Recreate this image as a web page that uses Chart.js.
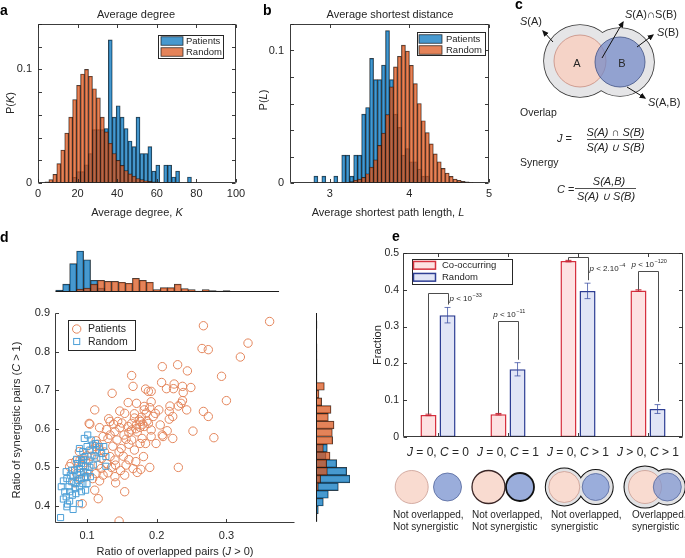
<!DOCTYPE html>
<html>
<head>
<meta charset="utf-8">
<title>Network overlap and synergy</title>
<script src="https://cdn.jsdelivr.net/npm/chart.js@4.4.1/dist/chart.umd.min.js"></script>
<style>
  body { margin: 0; background: #fff; }
  #fig { position: relative; width: 685px; height: 558px; overflow: hidden; font-family: "Liberation Sans", Arial, sans-serif; color: #262626; }
  #fig canvas { position: absolute; }
  .tx { position: absolute; font-size: 11px; line-height: 1; white-space: nowrap; transform: translate(-50%, -50%); }
  .rot { transform: translate(-50%, -50%) rotate(-90deg); }
  .pl { position: absolute; font-size: 14px; font-weight: bold; line-height: 1; color: #000; }
  .note { position: absolute; font-size: 10px; line-height: 11.7px; white-space: nowrap; }
  #art { position: absolute; left: 0; top: 0; }
</style>
</head>
<body>
<div id="fig">
  <canvas id="ca" width="245" height="205" style="left:0;top:0"></canvas>
  <canvas id="cb" width="247" height="205" style="left:248px;top:0"></canvas>
  <canvas id="cdt" width="300" height="50" style="left:0;top:245px"></canvas>
  <canvas id="cd" width="300" height="248" style="left:0;top:300px"></canvas>
  <canvas id="cdr" width="45" height="248" style="left:305px;top:300px"></canvas>
  <canvas id="ce" width="325" height="225" style="left:360px;top:240px"></canvas>

  <svg id="art" width="685" height="558" viewBox="0 0 685 558" font-family="Liberation Sans, Arial, sans-serif">
    <defs>
      <marker id="arr" viewBox="0 0 10 10" refX="8" refY="5" markerWidth="6.5" markerHeight="6.5" orient="auto">
        <path d="M0,0.5 L10,5 L0,9.5 z" fill="#111"/>
      </marker>
    </defs>
    <!-- c: Venn sketch -->
    <circle cx="580" cy="61" r="36" fill="none" stroke="#3a3a3a" stroke-width="1.6"/>
    <circle cx="620" cy="62" r="34" fill="none" stroke="#3a3a3a" stroke-width="1.6"/>
    <circle cx="580" cy="61" r="36" fill="#e5e5e7"/>
    <circle cx="620" cy="62" r="34" fill="#e5e5e7"/>
    <circle cx="580" cy="61" r="26" fill="#f5d3c7" stroke="#c68d80" stroke-width="0.8"/>
    <circle cx="620" cy="62" r="25" fill="#6f86c6" fill-opacity="0.7" stroke="#3f5084" stroke-width="0.8"/>
    <g fill="#262626" font-size="11">
      <text x="577" y="67" text-anchor="middle">A</text>
      <text x="622" y="67" text-anchor="middle">B</text>
      <text x="520" y="25"><tspan font-style="italic">S</tspan>(A)</text>
      <text x="625" y="17.5"><tspan font-style="italic">S</tspan>(A)∩S(B)</text>
      <text x="657" y="35.5"><tspan font-style="italic">S</tspan>(B)</text>
      <text x="648" y="105.5"><tspan font-style="italic">S</tspan>(A,B)</text>
      <text x="520" y="116" font-size="10.5">Overlap</text>
      <text x="557" y="142"><tspan font-style="italic">J</tspan> =</text>
      <text x="615.5" y="135.5" text-anchor="middle" font-style="italic">S(A) ∩ S(B)</text>
      <text x="615.5" y="151" text-anchor="middle" font-style="italic">S(A) ∪ S(B)</text>
      <text x="520" y="166" font-size="10.5">Synergy</text>
      <text x="557" y="193"><tspan font-style="italic">C</tspan> =</text>
      <text x="609" y="185" text-anchor="middle" font-style="italic">S(A,B)</text>
      <text x="606" y="200" text-anchor="middle" font-style="italic">S(A) ∪ S(B)</text>
    </g>
    <line x1="587" y1="139.5" x2="644" y2="139.5" stroke="#262626" stroke-width="0.8"/>
    <line x1="575" y1="188.5" x2="636" y2="188.5" stroke="#262626" stroke-width="0.8"/>
    <g stroke="#111" stroke-width="1">
      <line x1="553" y1="42" x2="543" y2="31" marker-end="url(#arr)"/>
      <line x1="602" y1="58" x2="623" y2="22" marker-end="url(#arr)"/>
      <line x1="637" y1="47" x2="653" y2="35" marker-end="url(#arr)"/>
      <line x1="627" y1="87" x2="645" y2="98" marker-end="url(#arr)"/>
    </g>

    <!-- e: pictograms under the bars -->
    <circle cx="411.7" cy="487" r="16.5" fill="#f9dbd0" stroke="#c99c92" stroke-width="0.8"/>
    <circle cx="447.5" cy="487" r="14" fill="#9aaddb" stroke="#53669c" stroke-width="0.8"/>

    <circle cx="488.5" cy="487" r="16.5" fill="#f9dbd0" stroke="#3b2626" stroke-width="1.3"/>
    <circle cx="520" cy="487" r="14" fill="#9aaddb" stroke="#111" stroke-width="1.8"/>

    <circle cx="564.3" cy="487" r="18.5" fill="none" stroke="#111" stroke-width="2"/>
    <circle cx="595.7" cy="487" r="17" fill="none" stroke="#111" stroke-width="2"/>
    <circle cx="564.3" cy="487" r="18.5" fill="#e2e2e4"/>
    <circle cx="595.7" cy="487" r="17" fill="#e2e2e4"/>
    <circle cx="564.3" cy="487" r="15.5" fill="#f9dbd0" stroke="#c99c92" stroke-width="0.8"/>
    <circle cx="595.7" cy="487" r="13.5" fill="#9aaddb" stroke="#53669c" stroke-width="0.8"/>

    <circle cx="645" cy="487" r="20.5" fill="none" stroke="#111" stroke-width="2"/>
    <circle cx="667.3" cy="487" r="17.5" fill="none" stroke="#111" stroke-width="2"/>
    <circle cx="645" cy="487" r="20.5" fill="#e2e2e4"/>
    <circle cx="667.3" cy="487" r="17.5" fill="#e2e2e4"/>
    <circle cx="645" cy="487" r="16.5" fill="#f9dbd0" stroke="#c99c92" stroke-width="0.8"/>
    <circle cx="667.3" cy="487" r="14" fill="#7f96d0" fill-opacity="0.72" stroke="#53669c" stroke-width="0.8"/>
  </svg>

  <div class="pl" style="left:0;top:3px">a</div>
  <div class="pl" style="left:263px;top:3px">b</div>
  <div class="pl" style="left:515px;top:-3px">c</div>
  <div class="pl" style="left:0;top:230px">d</div>
  <div class="pl" style="left:392px;top:229px">e</div>

  <div class="tx" style="left:136px;top:14px">Average degree</div>
  <div class="tx rot" style="left:10px;top:103px">P(<i>K</i>)</div>
  <div class="tx" style="left:137px;top:212px">Average degree, <i>K</i></div>
  <div class="tx" style="left:390px;top:14px">Average shortest distance</div>
  <div class="tx rot" style="left:263px;top:100px">P(<i>L</i>)</div>
  <div class="tx" style="left:388px;top:212px">Average shortest path length, <i>L</i></div>
  <div class="tx rot" style="left:16px;top:420px">Ratio of synergistic pairs (<i>C</i> &gt; 1)</div>
  <div class="tx" style="left:175px;top:551px">Ratio of overlapped pairs (<i>J</i> &gt; 0)</div>
  <div class="tx rot" style="left:377px;top:345px">Fraction</div>

  <div class="note" style="left:393px;top:509px">Not overlapped,<br>Not synergistic</div>
  <div class="note" style="left:472px;top:509px">Not overlapped,<br>Not synergistic</div>
  <div class="note" style="left:551px;top:509px">Not overlapped,<br>synergistic</div>
  <div class="note" style="left:632px;top:509px">Overlapped,<br>synergistic</div>
</div>

<script>
// ---- a: average degree, probability per bin (bin centres)
const degBins = [4.5, 6.5, 8.5, 10.5, 12.5, 14.5, 16.5, 18.5, 20.5, 22.5, 24.5, 26.5, 28.5, 30.5, 32.5, 34.5, 36.5, 38.5, 40.5, 42.5, 44.5, 46.5, 48.5, 50.5, 52.5, 54.5, 56.5, 58.5, 60.5, 62.5, 64.5, 66.5, 68.5, 70.5, 72.5, 74.5, 76.5];
const degPatients = [0, 0, 0, 0, 0, 0, 0, 0.005, 0.01, 0.01, 0.016, 0.026, 0.047, 0.047, 0.047, 0.048, 0.126, 0.058, 0.068, 0.058, 0.048, 0.037, 0.032, 0.058, 0.026, 0.026, 0.032, 0.0105, 0.0158, 0, 0.0158, 0.0158, 0.0053, 0.0105, 0, 0, 0.0053];
const degRandom = [0.001, 0.003, 0.0077, 0.017, 0.029, 0.044, 0.058, 0.0735, 0.086, 0.096, 0.1, 0.094, 0.083, 0.075, 0.058, 0.045, 0.035, 0.026, 0.02, 0.0155, 0.011, 0.008, 0.006, 0.004, 0.003, 0.002, 0.0015, 0.001, 0.0008, 0.0005, 0.0003, 0.0002, 0, 0, 0, 0, 0];

// ---- b: average shortest path length
const lenBins = [2.825, 2.875, 2.925, 2.975, 3.025, 3.075, 3.125, 3.175, 3.225, 3.275, 3.325, 3.375, 3.425, 3.475, 3.525, 3.575, 3.625, 3.675, 3.725, 3.775, 3.825, 3.875, 3.925, 3.975, 4.025, 4.075, 4.125, 4.175, 4.225, 4.275, 4.325, 4.375, 4.425, 4.475, 4.525, 4.575, 4.625, 4.675, 4.725, 4.775];
const lenPatients = [0.0052, 0, 0.0052, 0, 0, 0.0052, 0, 0.021, 0.021, 0.0052, 0.021, 0.021, 0.052, 0.057, 0.094, 0.078, 0.078, 0.089, 0.115, 0.078, 0.052, 0.042, 0.021, 0.026, 0.016, 0.016, 0.0105, 0.0052, 0.0052, 0, 0, 0, 0, 0, 0, 0, 0, 0, 0, 0];
const lenRandom = [0, 0, 0, 0, 0, 0, 0, 0.0004, 0.0006, 0.001, 0.0022, 0.003, 0.0043, 0.007, 0.012, 0.0175, 0.0284, 0.0377, 0.0516, 0.0725, 0.0876, 0.0956, 0.104, 0.0996, 0.0888, 0.075, 0.06, 0.047, 0.038, 0.0295, 0.022, 0.016, 0.011, 0.0075, 0.005, 0.003, 0.002, 0.0012, 0.0008, 0.0004];

// ---- d: ratio of overlapped pairs (x) vs ratio of synergistic pairs (y)
const patientsPts = [[0.362,0.878],[0.267,0.867],[0.331,0.822],[0.265,0.808],[0.274,0.805],[0.320,0.786],[0.208,0.761],[0.230,0.766],[0.244,0.750],[0.164,0.738],[0.293,0.736],[0.166,0.710],[0.207,0.720],[0.225,0.716],[0.214,0.704],[0.224,0.704],[0.237,0.710],[0.249,0.707],[0.184,0.703],[0.188,0.697],[0.192,0.697],[0.136,0.692],[0.238,0.694],[0.237,0.673],[0.300,0.673],[0.159,0.668],[0.235,0.666],[0.171,0.666],[0.192,0.670],[0.182,0.658],[0.182,0.649],[0.111,0.649],[0.203,0.649],[0.219,0.659],[0.218,0.645],[0.231,0.659],[0.243,0.649],[0.267,0.645],[0.274,0.632],[0.223,0.632],[0.218,0.625],[0.154,0.640],[0.168,0.639],[0.195,0.632],[0.175,0.623],[0.144,0.619],[0.133,0.619],[0.164,0.614],[0.171,0.610],[0.177,0.619],[0.182,0.606],[0.188,0.614],[0.192,0.597],[0.164,0.597],[0.159,0.606],[0.147,0.603],[0.140,0.593],[0.133,0.584],[0.103,0.614],[0.118,0.603],[0.123,0.580],[0.130,0.575],[0.143,0.571],[0.153,0.584],[0.156,0.573],[0.164,0.571],[0.179,0.575],[0.184,0.562],[0.176,0.562],[0.192,0.580],[0.208,0.584],[0.209,0.580],[0.223,0.575],[0.252,0.594],[0.282,0.577],[0.112,0.554],[0.118,0.545],[0.137,0.555],[0.149,0.549],[0.168,0.545],[0.181,0.528],[0.199,0.562],[0.106,0.529],[0.121,0.523],[0.133,0.528],[0.140,0.519],[0.152,0.529],[0.116,0.506],[0.128,0.510],[0.141,0.506],[0.156,0.506],[0.166,0.497],[0.177,0.495],[0.190,0.500],[0.231,0.500],[0.113,0.484],[0.123,0.480],[0.130,0.486],[0.140,0.476],[0.154,0.480],[0.172,0.487],[0.101,0.493],[0.108,0.471],[0.118,0.465],[0.141,0.460],[0.154,0.437],[0.111,0.441],[0.116,0.419],[0.077,0.510],[0.089,0.541],[0.090,0.519],[0.104,0.612],[0.093,0.406],[0.146,0.361],[0.113,0.569],[0.147,0.646],[0.131,0.626],[0.098,0.519],[0.084,0.517],[0.075,0.502],[0.085,0.484],[0.099,0.476],[0.170,0.600],[0.176,0.604],[0.180,0.612],[0.186,0.620],[0.172,0.592],[0.160,0.590],[0.185,0.641],[0.190,0.655],[0.178,0.630],[0.168,0.628],[0.150,0.615],[0.128,0.598],[0.138,0.612],[0.205,0.610],[0.215,0.595],[0.198,0.640],[0.160,0.560],[0.146,0.540],[0.125,0.540],[0.135,0.500],[0.148,0.492],[0.120,0.497],[0.160,0.520],[0.170,0.515],[0.100,0.530],[0.107,0.545],[0.115,0.560],[0.094,0.505],[0.082,0.460],[0.090,0.470]];
const randomPts = [[0.062,0.370],[0.071,0.398],[0.075,0.413],[0.080,0.391],[0.089,0.406],[0.070,0.424],[0.079,0.428],[0.068,0.437],[0.074,0.450],[0.084,0.432],[0.092,0.437],[0.098,0.441],[0.071,0.471],[0.078,0.463],[0.084,0.458],[0.089,0.450],[0.094,0.458],[0.100,0.458],[0.080,0.476],[0.087,0.480],[0.092,0.471],[0.098,0.476],[0.082,0.493],[0.089,0.497],[0.095,0.489],[0.101,0.486],[0.086,0.510],[0.092,0.510],[0.098,0.503],[0.104,0.500],[0.092,0.519],[0.085,0.521],[0.097,0.528],[0.103,0.519],[0.094,0.541],[0.100,0.554],[0.104,0.545],[0.101,0.584],[0.106,0.571],[0.108,0.558],[0.112,0.562],[0.113,0.545],[0.118,0.554],[0.124,0.554],[0.121,0.536],[0.127,0.528],[0.114,0.524],[0.127,0.503],[0.109,0.506],[0.078,0.493],[0.070,0.489],[0.063,0.450],[0.066,0.465],[0.075,0.437],[0.087,0.467],[0.089,0.549],[0.105,0.476],[0.096,0.575],[0.110,0.530],[0.083,0.445],[0.095,0.520],[0.090,0.487],[0.076,0.480],[0.066,0.418],[0.072,0.405]];

// marginal histograms of d (bar lengths in arbitrary count units)
const ovlBins = [0.06, 0.07, 0.08, 0.09, 0.10, 0.11, 0.12, 0.13, 0.14, 0.15, 0.16, 0.17, 0.18, 0.19, 0.20, 0.21, 0.22, 0.23, 0.24, 0.25, 0.26, 0.27, 0.28, 0.29, 0.30, 0.31, 0.32, 0.33, 0.34, 0.35, 0.36, 0.37];
const ovlPatients = [0, 0, 0, 3, 4, 8, 12, 11, 11, 10, 9, 14, 12, 10, 2.5, 4.5, 4.5, 8, 3.5, 2.5, 1, 2.5, 1.5, 1, 1.5, 0.5, 0, 0.5, 0.5, 0, 0, 0.5];
const ovlRandom = [2, 8, 29, 42, 33, 12, 4, 0, 0, 0, 0, 0, 0, 0, 0, 0, 0, 0, 0, 0, 0, 0, 0, 0, 0, 0, 0, 0, 0, 0, 0, 0];
const synBins = [0.37, 0.39, 0.41, 0.43, 0.45, 0.47, 0.49, 0.51, 0.53, 0.55, 0.57, 0.59, 0.61, 0.63, 0.65, 0.67, 0.69, 0.71, 0.73, 0.75, 0.77, 0.79, 0.81, 0.83, 0.85, 0.87, 0.89];
const synPatients = [0.5, 0, 0, 0.5, 2.3, 4.7, 11.3, 10.7, 14, 7.3, 16.7, 16.3, 18, 12.3, 15, 5.7, 3, 8.3, 1, 1, 1, 1, 1, 0.5, 0.5, 1, 0.5];
const synRandom = [1, 2.3, 7.3, 12.3, 22.3, 34, 30.7, 20.7, 10, 11.3, 0, 0, 0, 0, 0, 0, 0, 0, 0, 0, 0, 0, 0, 0, 0, 0, 0];

// ---- e: fraction of drug pairs per class
const fracCats = ['J = 0, C = 0', 'J = 0, C = 1', 'J = 0, C > 1', 'J > 0, C > 1'];
const coOccurring = [0.06, 0.062, 0.478, 0.398];
const coErr = [0.002, 0.002, 0.002, 0.002];
const randomFrac = [0.331, 0.184, 0.397, 0.076];
const randomErr = [0.021, 0.018, 0.021, 0.012];
const pMain = [' < 10', ' < 10', ' < 2.10', ' < 10'];
const pExp = ['\u221233', '\u221211', '\u22124', '\u2212120'];
const pBracket = [0.391, 0.316, 0.49, 0.45];
const pPlace = ['right', 'above', 'right', 'above'];

const FAM = "'Liberation Sans', Arial, sans-serif";
const INK = '#262626';
const BLUE_H = 'rgba(0,114,189,0.72)';
const ORANGE_H = 'rgba(217,83,25,0.72)';
const EDGE = 'rgba(20,20,20,0.85)';

Chart.defaults.font.family = FAM;
Chart.defaults.color = INK;

// MATLAB-like axes: box + inward ticks
const framePlugin = {
  id: 'frame',
  afterDraw(chart, args, o) {
    if (!o || !o.on) return;
    const ctx = chart.ctx, a = chart.chartArea;
    const xs = chart.scales.x, ys = chart.scales.y;
    const L = Math.round(a.left) + 0.5, R = Math.round(a.right) - 0.5;
    const T = Math.round(a.top) + 0.5, B = Math.round(a.bottom) - 0.5;
    const t = 3.5;
    ctx.save();
    ctx.strokeStyle = INK;
    ctx.lineWidth = 0.9;
    ctx.beginPath();
    if (o.full) ctx.rect(L, T, R - L, B - T);
    else { ctx.moveTo(L, T); ctx.lineTo(L, B); ctx.lineTo(R, B); }
    xs.ticks.forEach((tk, i) => {
      const p = Math.round(xs.getPixelForTick(i)) + 0.5;
      ctx.moveTo(p, B); ctx.lineTo(p, B - t);
      if (o.full) { ctx.moveTo(p, T); ctx.lineTo(p, T + t); }
    });
    ys.ticks.forEach((tk, i) => {
      const p = Math.round(ys.getPixelForTick(i)) + 0.5;
      ctx.moveTo(L, p); ctx.lineTo(L + t, p);
      if (o.full) { ctx.moveTo(R, p); ctx.lineTo(R - t, p); }
    });
    ctx.stroke();
    ctx.restore();
  }
};

// zero line under the marginal histograms
const baselinePlugin = {
  id: 'baseline',
  afterDatasetsDraw(chart, args, o) {
    if (!o || !o.axis) return;
    const ctx = chart.ctx, xs = chart.scales.x, ys = chart.scales.y;
    ctx.save();
    ctx.strokeStyle = '#1a1a1a';
    ctx.lineWidth = 1;
    ctx.beginPath();
    if (o.axis === 'x') {
      const y0 = Math.round(ys.getPixelForValue(0)) - 0.5;
      ctx.moveTo(xs.getPixelForValue(o.from), y0); ctx.lineTo(xs.getPixelForValue(o.to), y0);
    } else {
      const x0 = Math.round(xs.getPixelForValue(0)) + 0.5;
      ctx.moveTo(x0, ys.getPixelForValue(o.from)); ctx.lineTo(x0, ys.getPixelForValue(o.to));
    }
    ctx.stroke();
    ctx.restore();
  }
};

// boxed legend placed inside the axes
const keyPlugin = {
  id: 'keybox',
  afterDraw(chart, args, o) {
    if (!o || !o.box) return;
    const ctx = chart.ctx;
    const [bx, by, bw, bh] = o.box;
    ctx.save();
    ctx.fillStyle = '#fff';
    ctx.fillRect(bx, by, bw, bh);
    ctx.strokeStyle = INK;
    ctx.lineWidth = 1;
    ctx.strokeRect(bx + 0.5, by + 0.5, bw, bh);
    ctx.font = o.font;
    ctx.textBaseline = 'middle';
    chart.data.datasets.forEach((ds, i) => {
      const cy = by + o.rows[i];
      const sx = bx + o.swatchX;
      if (o.kind === 'rect') {
        ctx.fillStyle = '#fff';
        ctx.fillRect(sx, cy - o.sh / 2, o.sw, o.sh);
        ctx.fillStyle = ds.backgroundColor;
        ctx.fillRect(sx, cy - o.sh / 2, o.sw, o.sh);
        ctx.strokeStyle = ds.borderColor;
        ctx.lineWidth = o.lw || 1;
        ctx.strokeRect(sx, cy - o.sh / 2, o.sw, o.sh);
      } else {
        ctx.strokeStyle = ds.borderColor;
        ctx.lineWidth = 1;
        if (ds.pointStyle === 'rect') {
          const s = ds.pointRadius * Math.SQRT1_2;
          ctx.strokeRect(sx - s, cy - s, 2 * s, 2 * s);
        } else {
          ctx.beginPath(); ctx.arc(sx, cy, ds.pointRadius, 0, Math.PI * 2); ctx.stroke();
        }
      }
      ctx.fillStyle = INK;
      ctx.fillText(ds.label, bx + o.textX, cy + 0.5);
    });
    ctx.restore();
  }
};

// error bars, significance brackets and mixed-style category labels for e
function pLabel(ctx, x, base, align, main, exp) {
  ctx.font = 'italic 8px ' + FAM; const w1 = ctx.measureText('p').width;
  ctx.font = '8px ' + FAM; const w2 = ctx.measureText(main).width;
  ctx.font = '5.5px ' + FAM; const w3 = ctx.measureText(exp).width;
  const x0 = align === 'above' ? x - (w1 + w2 + w3) / 2 : x;
  ctx.fillStyle = INK;
  ctx.textAlign = 'left';
  ctx.textBaseline = 'alphabetic';
  ctx.font = 'italic 8px ' + FAM; ctx.fillText('p', x0, base);
  ctx.font = '8px ' + FAM; ctx.fillText(main, x0 + w1, base);
  ctx.font = '5.5px ' + FAM; ctx.fillText(exp, x0 + w1 + w2 + 0.5, base - 4);
}

const fracPlugin = {
  id: 'fracNotes',
  afterDatasetsDraw(chart, args, o) {
    if (!o || !o.on) return;
    const ctx = chart.ctx, ys = chart.scales.y, xs = chart.scales.x, area = chart.chartArea;
    const co = chart.getDatasetMeta(0).data, ra = chart.getDatasetMeta(1).data;
    ctx.save();
    const errBar = (x, v, e, col) => {
      const y1 = ys.getPixelForValue(v - e), y2 = ys.getPixelForValue(v + e);
      ctx.strokeStyle = col; ctx.lineWidth = 1;
      ctx.beginPath();
      ctx.moveTo(x, y1); ctx.lineTo(x, y2);
      ctx.moveTo(x - 3, y1); ctx.lineTo(x + 3, y1);
      ctx.moveTo(x - 3, y2); ctx.lineTo(x + 3, y2);
      ctx.stroke();
    };
    fracCats.forEach((c, i) => {
      errBar(co[i].x, coOccurring[i], coErr[i], 'rgb(200,40,55)');
      errBar(ra[i].x, randomFrac[i], randomErr[i], 'rgba(55,75,160,0.75)');
    });
    fracCats.forEach((c, i) => {
      const x1 = Math.round(co[i].x) + 0.5, x2 = Math.round(ra[i].x) + 0.5;
      const top = Math.round(ys.getPixelForValue(pBracket[i])) + 0.5;
      const y1 = ys.getPixelForValue(coOccurring[i] + coErr[i]);
      const y2 = ys.getPixelForValue(randomFrac[i] + randomErr[i] + 0.008);
      ctx.strokeStyle = '#4d4d4d'; ctx.lineWidth = 1;
      ctx.beginPath();
      ctx.moveTo(x1, y1); ctx.lineTo(x1, top); ctx.lineTo(x2, top); ctx.lineTo(x2, y2);
      ctx.stroke();
      if (pPlace[i] === 'right') {
        pLabel(ctx, x2 + 1, top + (i === 0 ? 7 : 13), 'right', pMain[i], pExp[i]);
      } else {
        pLabel(ctx, (x1 + x2) / 2 + 0.5, top - 4.5, 'above', pMain[i], pExp[i]);
      }
    });
    ctx.fillStyle = INK;
    ctx.textBaseline = 'alphabetic';
    fracCats.forEach((c, i) => {
      const parts = c.split(/([JC])/).filter(s => s.length);
      const fonts = parts.map(p => (p === 'J' || p === 'C') ? 'italic 12px ' + FAM : '12px ' + FAM);
      let w = 0;
      const ws = parts.map((p, k) => { ctx.font = fonts[k]; const m = ctx.measureText(p).width; w += m; return m; });
      let x = xs.getPixelForTick(i) - w / 2;
      parts.forEach((p, k) => { ctx.font = fonts[k]; ctx.fillText(p, x, area.bottom + 19); x += ws[k]; });
    });
    ctx.restore();
  }
};

Chart.register(framePlugin, baselinePlugin, keyPlugin, fracPlugin);

function fixW(w) {
  return s => { s.width = w; s.paddingTop = 0; s.paddingBottom = 0; s.paddingLeft = 0; s.paddingRight = 0; };
}
function fixH(h) {
  return s => { s.height = h; s.paddingLeft = 0; s.paddingRight = 0; s.paddingTop = 0; s.paddingBottom = 0; };
}

function histSet(label, bins, vals, color, order, horizontal) {
  return {
    label: label,
    data: bins.map((b, i) => horizontal ? { x: vals[i], y: b } : { x: b, y: vals[i] }),
    backgroundColor: color,
    borderColor: EDGE,
    borderWidth: 0.7,
    borderSkipped: false,
    barPercentage: 1,
    categoryPercentage: 1,
    grouped: false,
    order: order
  };
}

function histOptions(o) {
  return {
    responsive: false,
    animation: false,
    events: [],
    layout: { padding: Object.assign({ top: 0, right: 0, bottom: 0, left: 0 }, o.pad) },
    scales: {
      x: {
        type: 'linear', offset: false, min: o.x.min, max: o.x.max,
        grid: { display: false, drawTicks: false }, border: { display: false },
        ticks: { stepSize: o.x.step, includeBounds: false, autoSkip: false, maxRotation: 0, padding: 4, font: { size: 11 } },
        afterFit: fixH(o.xh)
      },
      y: {
        min: o.y.min, max: o.y.max,
        grid: { display: false, drawTicks: false }, border: { display: false },
        ticks: {
          stepSize: o.y.step, includeBounds: false, autoSkip: false, padding: 6, font: { size: 11 },
          callback: v => o.y.show.some(s => Math.abs(s - v) < 1e-9) ? String(+v.toFixed(3)) : ''
        },
        afterFit: fixW(o.yw)
      }
    },
    plugins: {
      legend: { display: false },
      tooltip: { enabled: false },
      frame: { on: true, full: true },
      keybox: o.key
    }
  };
}

// a
new Chart(document.getElementById('ca'), {
  type: 'bar',
  data: { datasets: [
    histSet('Patients', degBins, degPatients, BLUE_H, 1),
    histSet('Random', degBins, degRandom, ORANGE_H, 0)
  ] },
  options: histOptions({
    x: { min: 0, max: 100, step: 20 },
    y: { min: 0, max: 0.14, step: 0.02, show: [0, 0.1] },
    xh: 22, yw: 38, pad: { top: 24, right: 9 },
    key: { box: [158, 35, 65, 23], rows: [6, 17], kind: 'rect', swatchX: 3, sw: 22, sh: 8.5, textX: 28, font: '9.5px ' + FAM, lw: 0.8 }
  })
});

// b
new Chart(document.getElementById('cb'), {
  type: 'bar',
  data: { datasets: [
    histSet('Patients', lenBins, lenPatients, BLUE_H, 1),
    histSet('Random', lenBins, lenRandom, ORANGE_H, 0)
  ] },
  options: histOptions({
    x: { min: 2.5, max: 5, step: 1 },
    y: { min: 0, max: 0.12, step: 0.02, show: [0, 0.1] },
    xh: 22, yw: 42, pad: { top: 24, right: 6 },
    key: { box: [169, 32, 68, 23], rows: [7, 18], kind: 'rect', swatchX: 2, sw: 23, sh: 8.5, textX: 29, font: '9.5px ' + FAM, lw: 0.8 }
  })
});

// d: scatter
new Chart(document.getElementById('cd'), {
  type: 'scatter',
  data: { datasets: [
    { label: 'Patients', data: patientsPts.map(p => ({ x: p[0], y: p[1] })), pointStyle: 'circle', pointRadius: 4.2,
      borderColor: 'rgb(228,134,92)', backgroundColor: 'rgba(0,0,0,0)', borderWidth: 1, order: 1 },
    { label: 'Random', data: randomPts.map(p => ({ x: p[0], y: p[1] })), pointStyle: 'rect', pointRadius: 4.3,
      borderColor: 'rgb(78,160,215)', backgroundColor: 'rgba(0,0,0,0)', borderWidth: 1, order: 0 }
  ] },
  options: {
    responsive: false,
    animation: false,
    events: [],
    layout: { padding: { top: 13, right: 5, left: 0, bottom: 0 } },
    scales: {
      x: {
        type: 'linear', min: 0.054, max: 0.398,
        grid: { display: false, drawTicks: false }, border: { display: false },
        ticks: { stepSize: 0.1, includeBounds: false, autoSkip: false, maxRotation: 0, padding: 6, font: { size: 11 } },
        afterFit: fixH(25)
      },
      y: {
        min: 0.356, max: 0.9,
        grid: { display: false, drawTicks: false }, border: { display: false },
        ticks: { stepSize: 0.1, includeBounds: false, autoSkip: false, padding: 5, font: { size: 11 } },
        afterFit: fixW(55)
      }
    },
    plugins: {
      legend: { display: false },
      tooltip: { enabled: false },
      frame: { on: true, full: false },
      keybox: { box: [68, 20, 67, 30], rows: [9, 21.5], kind: 'point', swatchX: 8.7, textX: 20, font: '10.5px ' + FAM }
    }
  }
});

// d: marginal histogram on top
new Chart(document.getElementById('cdt'), {
  type: 'bar',
  data: { datasets: [
    histSet('Patients', ovlBins, ovlPatients, ORANGE_H, 0),
    histSet('Random', ovlBins, ovlRandom, BLUE_H, 1)
  ] },
  options: {
    responsive: false, animation: false, events: [],
    layout: { padding: { left: 55, right: 5, top: 5, bottom: 3 } },
    scales: {
      x: { type: 'linear', offset: false, display: false, min: 0.054, max: 0.398 },
      y: { display: false, min: 0, max: 43 }
    },
    plugins: { legend: { display: false }, tooltip: { enabled: false }, baseline: { axis: 'x', from: 0.055, to: 0.375 } }
  }
});

// d: marginal histogram on the right
new Chart(document.getElementById('cdr'), {
  type: 'bar',
  data: { datasets: [
    histSet('Patients', synBins, synPatients, ORANGE_H, 0, true),
    histSet('Random', synBins, synRandom, BLUE_H, 1, true)
  ] },
  options: {
    indexAxis: 'y',
    responsive: false, animation: false, events: [],
    layout: { padding: { left: 11, right: 0, top: 13, bottom: 25 } },
    scales: {
      y: { type: 'linear', offset: false, display: false, min: 0.356, max: 0.9 },
      x: { display: false, min: 0, max: 34 }
    },
    plugins: { legend: { display: false }, tooltip: { enabled: false }, baseline: { axis: 'y', from: 0.36, to: 0.9 } }
  }
});

// e
new Chart(document.getElementById('ce'), {
  type: 'bar',
  data: {
    labels: fracCats,
    datasets: [
      { label: 'Co-occurring', data: coOccurring, backgroundColor: 'rgb(253,226,226)', borderColor: 'rgb(214,48,62)',
        borderWidth: 1.5, borderSkipped: false, barPercentage: 0.84, categoryPercentage: 0.545 },
      { label: 'Random', data: randomFrac, backgroundColor: 'rgb(225,229,246)', borderColor: 'rgb(46,62,148)',
        borderWidth: 1.5, borderSkipped: false, barPercentage: 0.84, categoryPercentage: 0.545 }
    ]
  },
  options: {
    responsive: false, animation: false, events: [],
    layout: { padding: { top: 13, right: 2, left: 0, bottom: 0 } },
    scales: {
      x: { grid: { display: false, drawTicks: false }, border: { display: false }, ticks: { display: false }, afterFit: fixH(28) },
      y: {
        min: 0, max: 0.5,
        grid: { display: false, drawTicks: false }, border: { display: false },
        ticks: { stepSize: 0.1, autoSkip: false, padding: 4, font: { size: 10.5 } },
        afterFit: fixW(43)
      }
    },
    plugins: {
      legend: { display: false },
      tooltip: { enabled: false },
      frame: { on: true, full: true },
      keybox: { box: [52, 19, 100, 25], rows: [6.3, 18.3], kind: 'rect', swatchX: 1.5, sw: 22, sh: 7.7, textX: 30, font: '9.5px ' + FAM, lw: 1.5 },
      fracNotes: { on: true }
    }
  }
});
</script>
</body>
</html>
